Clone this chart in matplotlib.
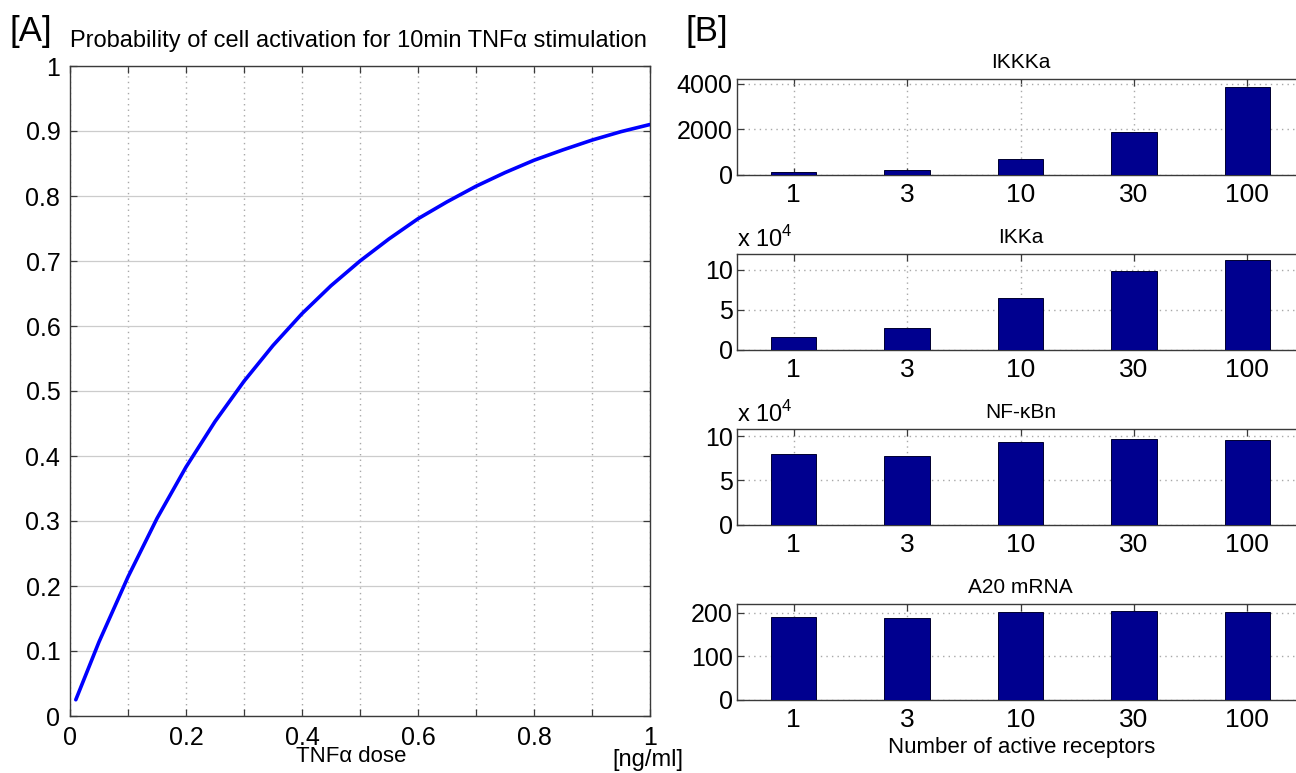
import numpy as np
import matplotlib
matplotlib.use("Agg")
import matplotlib.pyplot as plt

plt.rcParams['font.family'] = ['Liberation Sans', 'DejaVu Sans']
plt.rcParams['mathtext.fontset'] = 'custom'
plt.rcParams['mathtext.rm'] = 'Liberation Sans'

# ---- data ----
# [A] probability of activation vs TNFa dose (ng/ml)
dose = [0.01, 0.05, 0.10, 0.15, 0.20, 0.25, 0.30, 0.35, 0.40, 0.45, 0.50,
        0.55, 0.60, 0.65, 0.70, 0.75, 0.80, 0.85, 0.90, 0.95, 1.00]
prob = [0.025, 0.114, 0.214, 0.304, 0.383, 0.453, 0.515, 0.570, 0.619, 0.662, 0.700,
        0.734, 0.765, 0.791, 0.815, 0.836, 0.855, 0.871, 0.886, 0.899, 0.910]

# [B] responses vs number of active receptors
receptors = ['1', '3', '10', '30', '100']
ikkka = [90, 180, 690, 1860, 3870]
ikka = [15800, 27400, 65100, 98800, 112900]
nfkbn = [79900, 77300, 92800, 96200, 95100]
a20 = [189, 187, 201, 205, 201]

W, H = 1296, 773
fig = plt.figure(figsize=(W / 100, H / 100), dpi=100)


def fx(px):
    return px / W


def fy(py):
    return 1 - py / H


AX_COL = '#3a3a3a'


def style_axes(ax):
    for s in ax.spines.values():
        s.set_color(AX_COL)
        s.set_linewidth(1.0)
    ax.tick_params(direction='in', top=True, right=True, length=5,
                   color=AX_COL, width=0.9)


# ---- panel A ----
axA = fig.add_axes([fx(70), fy(716), 580 / W, 650 / H])
axA.plot(dose, prob, color='#0000ff', lw=2.6, zorder=3,
         solid_joinstyle='round', solid_capstyle='round')
axA.set_xlim(0, 1)
axA.set_ylim(0, 1)
xt = np.round(np.arange(0, 1.01, 0.1), 1)
axA.set_xticks(xt)
axA.set_xticklabels([('%g' % v) if round(v * 10) % 2 == 0 else '' for v in xt])
yt = np.round(np.arange(0, 1.01, 0.1), 1)
axA.set_yticks(yt)
axA.set_yticklabels(['%g' % v for v in yt])
axA.grid(axis='y', color='#cccccc', lw=0.9, ls='-')
axA.grid(axis='x', color='#a8a8a8', lw=1.0, ls=(0, (1, 3)))
axA.set_axisbelow(True)
style_axes(axA)
axA.tick_params(labelsize=18, pad=7)
fig.text(fx(351), fy(757), 'TNFα dose', ha='center', va='center', fontsize=16)
fig.text(fx(648), fy(760), '[ng/ml]', ha='center', va='center', fontsize=17)
fig.text(fx(358), fy(47), 'Probability of cell activation for 10min TNFα stimulation',
         ha='center', va='baseline', fontsize=17)
fig.text(fx(9), fy(31), '[A]', ha='left', va='center', fontsize=25)
fig.text(fx(685), fy(32), '[B]', ha='left', va='center', fontsize=25)

# ---- panel B ----
panels = [
    ('IKKKa', ikkka, 1.0, 4200, [0, 2000, 4000], False),
    ('IKKa', ikka, 1e4, 12, [0, 5, 10], True),
    ('NF-κBn', nfkbn, 1e4, 10.8, [0, 5, 10], True),
    ('A20 mRNA', a20, 1.0, 220, [0, 100, 200], False),
]
tops = [79, 254, 429, 604]
ph = 95.5
xpos = np.arange(1, len(receptors) + 1)
for (title, vals, scale, ytop, yts, expo), top in zip(panels, tops):
    ax = fig.add_axes([fx(737), fy(top + ph), 567 / W, ph / H])
    ax.bar(xpos, np.array(vals) / scale, width=0.4, color='#00008F',
           edgecolor='#000030', lw=0.7, zorder=3)
    ax.set_xlim(0.5, 5.5)
    ax.set_ylim(0, ytop)
    ax.set_xticks(xpos)
    ax.set_xticklabels(receptors)
    ax.set_yticks(yts)
    ax.grid(True, color='#a8a8a8', lw=1.0, ls=(0, (1, 3)))
    ax.set_axisbelow(True)
    style_axes(ax)
    ax.tick_params(axis='x', labelsize=19, pad=6)
    ax.tick_params(axis='y', labelsize=18, pad=3)
    ax.set_title(title, fontsize=15, pad=8)
    if expo:
        fig.text(fx(737), fy(top - 7), r'x 10$^{\mathregular{4}}$',
                 ha='left', va='baseline', fontsize=17)

fig.text(fx(1022), fy(748), 'Number of active receptors', ha='center',
         va='center', fontsize=16)

fig.savefig('out.png', dpi=100)
